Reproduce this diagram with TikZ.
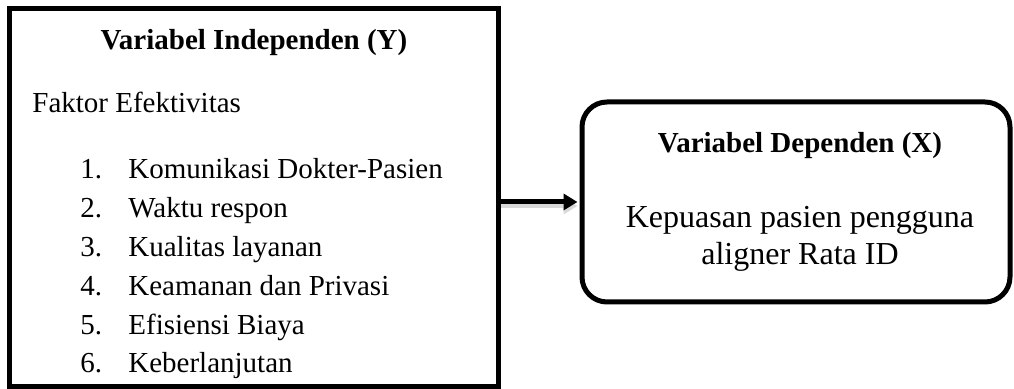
\documentclass[tikz,border=0pt]{standalone}
\usepackage{fontspec}
\setmainfont{Liberation Serif}
\usetikzlibrary{arrows.meta,positioning}

\begin{document}
\begin{tikzpicture}
[x=0.5pt,y=0.5pt,every node/.style={inner sep=0pt,font=\fontsize{14.5}{17}\selectfont},
ttl/.style={anchor=base,font=\fontsize{14.5}{17}\selectfont\bfseries},
item/.style={anchor=base west}]
\useasboundingbox (0,0) rectangle (1014,389);
% boxes
\node[draw,line width=2.5pt,minimum width=244.25pt,minimum height=188.75pt] (indep) at (253.75,191.25) {};
\node[draw,line width=2.5pt,rounded corners=12.5pt,minimum width=214pt,minimum height=100pt] (dep) at (796,187) {};
% left box text
\node[ttl] (ttlY) at (254,339) {Variabel Independen (Y)};
\node[item] (faktor) at (32,276) {Faktor Efektivitas};
\foreach \i/\txt in {1/Komunikasi Dokter-Pasien,2/Waktu respon,3/Kualitas layanan,4/Keamanan dan Privasi,5/Efisiensi Biaya,6/Keberlanjutan}{
\pgfmathsetmacro\yy{210-38.8*(\i-1)}
\node[item] (num\i) at (80,\yy) {\i.};
\node[item] (item\i) at (128,\yy) {\txt};
}
% right box text
\node[ttl] (ttlX) at (800,236) {Variabel Dependen (X)};
\node[anchor=base,font=\fontsize{16}{18.5}\selectfont] (kep) at (800,161) {Kepuasan pasien pengguna};
\node[anchor=base,font=\fontsize{16}{18.5}\selectfont] (alg) at (800,124) {aligner Rata ID};
% arrow
\draw[line width=2.5pt,-{Triangle[length=7pt,width=8pt]},shorten >=1pt,
preaction={draw,black!15,line width=2pt,transform canvas={yshift=-2pt}}]
(indep.east |- dep.west) -- (dep.west);
\end{tikzpicture}
\end{document}
